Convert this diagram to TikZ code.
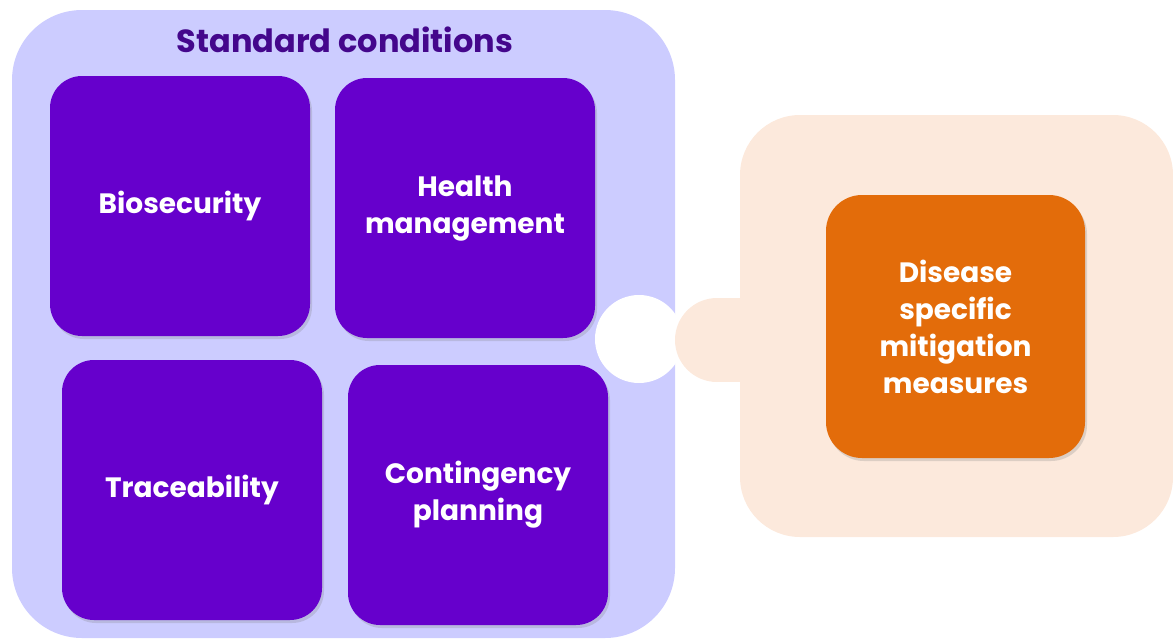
\documentclass[tikz,border=0pt]{standalone}
\usepackage{fontspec}
\setmainfont{Poppins}
\usetikzlibrary{shadows}
\definecolor{lavender}{HTML}{CCCCFF}
\definecolor{violetbox}{HTML}{6600CC}
\definecolor{titleviolet}{HTML}{44078C}
\definecolor{peach}{HTML}{FCE9DC}
\definecolor{orangebox}{HTML}{E36C0A}
\begin{document}
\begin{tikzpicture}
[x=1pt, y=-1pt, font=\bfseries,
panel/.style={rectangle, inner sep=0pt},
item/.style={rectangle, fill=violetbox, rounded corners=32pt, inner sep=0pt,
  minimum width=260pt, minimum height=260pt, text=white, align=center,
  font=\bfseries\fontsize{28}{37}\selectfont,
  drop shadow={opacity=0.25, shadow xshift=2pt, shadow yshift=-3pt}},
measure/.style={item, fill=orangebox, rounded corners=36pt, minimum width=259pt, minimum height=263pt}]

\useasboundingbox (0,0) rectangle (1173,640);

% standard conditions
\node[panel, fill=lavender, rounded corners=70pt, minimum width=663pt, minimum height=628pt] (std) at (343.5,324) {};
\node[text=titleviolet, font=\bfseries\fontsize{32}{38}\selectfont] (stdtitle) at (345,40) {Standard conditions};

\node[item] (biosec) at (180,206) {Biosecurity};
\node[item] (health) at (465,208) {Health\\management};
\node[item] (trace) at (192,490) {Traceability};
\node[item] (conting) at (478,495) {Contingency\\planning};

% puzzle joint
\node[circle, fill=white, inner sep=0pt, minimum size=88pt] (notch) at (639,339) {};
\node[circle, fill=peach, inner sep=0pt, minimum size=84pt] (tab) at (717,340) {};
\fill[peach] (tab.north) rectangle (745,382);

% specific measures
\node[panel, fill=peach, rounded corners=60pt, minimum width=433pt, minimum height=422pt] (spec) at (956.5,326) {};
\node[measure] (disease) at (955.5,326.5) {Disease\\specific\\mitigation\\measures};
\end{tikzpicture}
\end{document}
